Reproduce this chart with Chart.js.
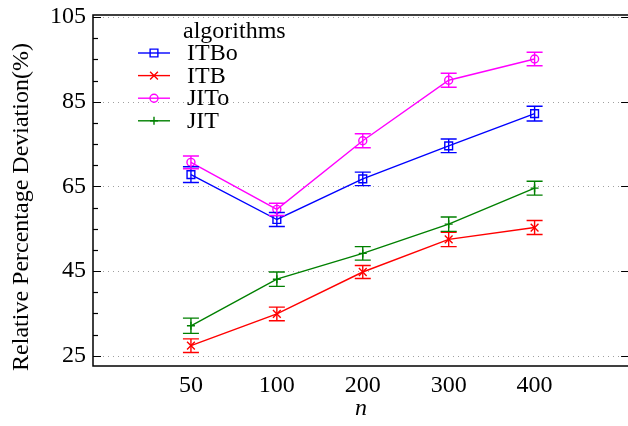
<!DOCTYPE html>
<html>
<head>
<meta charset="utf-8">
<script src="https://cdn.jsdelivr.net/npm/chart.js@4.4.0/dist/chart.umd.min.js"></script>
<style>
body { margin: 0; background: #fff; overflow: hidden; }
#wrap { width: 628px; height: 426px; overflow: hidden; }
</style>
</head>
<body>
<div id="wrap"><canvas id="chart" width="636" height="426"></canvas></div>
<script>
// problem sizes on the x axis
var sizes = ['50', '100', '200', '300', '400'];
var yTicks = [25, 45, 65, 85, 105];

// mean relative deviation and error (+/-) per algorithm
var itbo    = [67.8, 57.2, 66.8, 74.6, 82.2];
var itboErr = [1.85, 1.65, 1.6, 1.6, 1.75];
var itb     = [27.4, 34.9, 44.8, 52.5, 55.3];
var itbErr  = [1.6, 1.6, 1.55, 1.7, 1.65];
var jito    = [70.7, 59.6, 75.8, 90.1, 95.1];
var jitoErr = [1.5, 1.45, 1.65, 1.65, 1.6];
var jit     = [32.1, 43.1, 49.2, 56.1, 64.6];
var jitErr  = [1.8, 1.7, 1.6, 1.7, 1.65];

var FONT = 'Liberation Serif';

function pts(vals) {
    return vals.map(function(v, i) { return {x: i + 1, y: v}; });
}

function ds(label, vals, errs, color, style, radius) {
    return {
        label: label,
        data: pts(vals),
        errs: errs,
        borderColor: color,
        backgroundColor: color,
        borderWidth: 1.4,
        pointStyle: style,
        pointRadius: radius,
        pointBorderWidth: 1.4,
        pointBackgroundColor: 'rgba(0,0,0,0)',
        pointBorderColor: color,
        tension: 0
    };
}

var datasets = [
    ds('ITBo', itbo, itboErr, '#0000ff', 'rect', 5.5),
    ds('ITB', itb, itbErr, '#ff0000', 'crossRot', 5.5),
    ds('JITo', jito, jitoErr, '#ff00ff', 'circle', 4),
    ds('JIT', jit, jitErr, '#008000', 'cross', 4)
];

var decor = {
    id: 'decor',
    beforeDatasetsDraw: function(chart) {
        var ctx = chart.ctx, a = chart.chartArea, ys = chart.scales.y;
        ctx.save();
        ctx.strokeStyle = '#a0a0a0';
        ctx.lineWidth = 1;
        ctx.setLineDash([1, 4]);
        yTicks.forEach(function(v) {
            var p = Math.round(ys.getPixelForValue(v)) + 0.5;
            ctx.beginPath();
            ctx.moveTo(a.left, p);
            ctx.lineTo(a.right, p);
            ctx.stroke();
        });
        ctx.restore();
    },
    afterDatasetsDraw: function(chart) {
        var ctx = chart.ctx, xs = chart.scales.x, ys = chart.scales.y;
        ctx.save();
        chart.data.datasets.forEach(function(d) {
            ctx.strokeStyle = d.borderColor;
            ctx.lineWidth = 1.4;
            d.data.forEach(function(p, i) {
                var x = xs.getPixelForValue(p.x);
                var y1 = ys.getPixelForValue(p.y + d.errs[i]);
                var y2 = ys.getPixelForValue(p.y - d.errs[i]);
                ctx.beginPath();
                ctx.moveTo(x, y1); ctx.lineTo(x, y2);
                ctx.moveTo(x - 8, y1); ctx.lineTo(x + 8, y1);
                ctx.moveTo(x - 8, y2); ctx.lineTo(x + 8, y2);
                ctx.stroke();
            });
        });
        ctx.restore();
    },
    afterDraw: function(chart) {
        var ctx = chart.ctx, a = chart.chartArea, ys = chart.scales.y;
        ctx.save();
        // frame
        ctx.strokeStyle = '#000';
        ctx.lineWidth = 1.5;
        ctx.strokeRect(a.left, a.top, a.right - a.left, a.bottom - a.top);
        // inward ticks (minor ones only on the left)
        ctx.lineWidth = 1.2;
        for (var v = 25; v <= 105; v += 5) {
            var p = Math.round(ys.getPixelForValue(v)) + 0.5;
            var major = yTicks.indexOf(v) >= 0;
            ctx.beginPath();
            ctx.moveTo(a.left, p); ctx.lineTo(a.left + (major ? 8 : 5), p);
            if (major) { ctx.moveTo(a.right, p); ctx.lineTo(a.right - 8, p); }
            ctx.stroke();
        }
        // y axis title
        ctx.fillStyle = '#000';
        ctx.font = '24px "' + FONT + '"';
        ctx.textBaseline = 'middle';
        ctx.textAlign = 'center';
        ctx.save();
        ctx.translate(22, 207);
        ctx.rotate(-Math.PI / 2);
        ctx.fillText('Relative Percentage Deviation(%)', 0, 0);
        ctx.restore();
        // legend
        ctx.textAlign = 'left';
        ctx.fillText('algorithms', 183, 32);
        chart.data.datasets.forEach(function(d, i) {
            var y = 53 + i * 22.6;
            ctx.strokeStyle = d.borderColor;
            ctx.lineWidth = 1.4;
            ctx.beginPath();
            ctx.moveTo(138, y); ctx.lineTo(170, y);
            ctx.stroke();
            ctx.fillStyle = 'rgba(0,0,0,0)';
            Chart.helpers.drawPoint(ctx, {pointStyle: d.pointStyle, radius: d.pointRadius, borderWidth: 1.4, rotation: 0}, 154, y);
            ctx.fillStyle = '#000';
            ctx.fillText(d.label, 187, y + 1);
        });
        ctx.restore();
    }
};

new Chart(document.getElementById('chart'), {
    type: 'line',
    data: { datasets: datasets },
    plugins: [decor],
    options: {
        responsive: false,
        animation: false,
        devicePixelRatio: 1,
        layout: { padding: { top: 15, right: 4, left: 0, bottom: 0 } },
        plugins: { legend: { display: false }, tooltip: { enabled: false } },
        scales: {
            x: {
                type: 'linear',
                min: -0.14,
                max: 6.1,
                afterBuildTicks: function(s) {
                    s.ticks = sizes.map(function(t, i) { return {value: i + 1}; });
                },
                afterFit: function(s) {
                    s.height = 60;
                    s.paddingLeft = 0; s.paddingRight = 0;
                },
                grid: { display: false, drawTicks: false },
                border: { display: false },
                ticks: {
                    padding: 5,
                    color: '#000',
                    font: { family: FONT, size: 24 },
                    callback: function(v) { return sizes[v - 1]; }
                },
                title: {
                    display: true,
                    text: 'n',
                    color: '#000',
                    padding: { top: 0, bottom: 3 },
                    font: { family: FONT, size: 24, style: 'italic' }
                }
            },
            y: {
                min: 22.6,
                max: 105.5,
                afterBuildTicks: function(s) {
                    s.ticks = yTicks.map(function(v) { return {value: v}; });
                },
                afterFit: function(s) {
                    s.width = 93;
                    s.paddingTop = 0; s.paddingBottom = 0;
                },
                grid: { display: false, drawTicks: false },
                border: { display: false },
                ticks: {
                    padding: 7,
                    color: '#000',
                    font: { family: FONT, size: 24 }
                }
            }
        }
    }
});
</script>
</body>
</html>
